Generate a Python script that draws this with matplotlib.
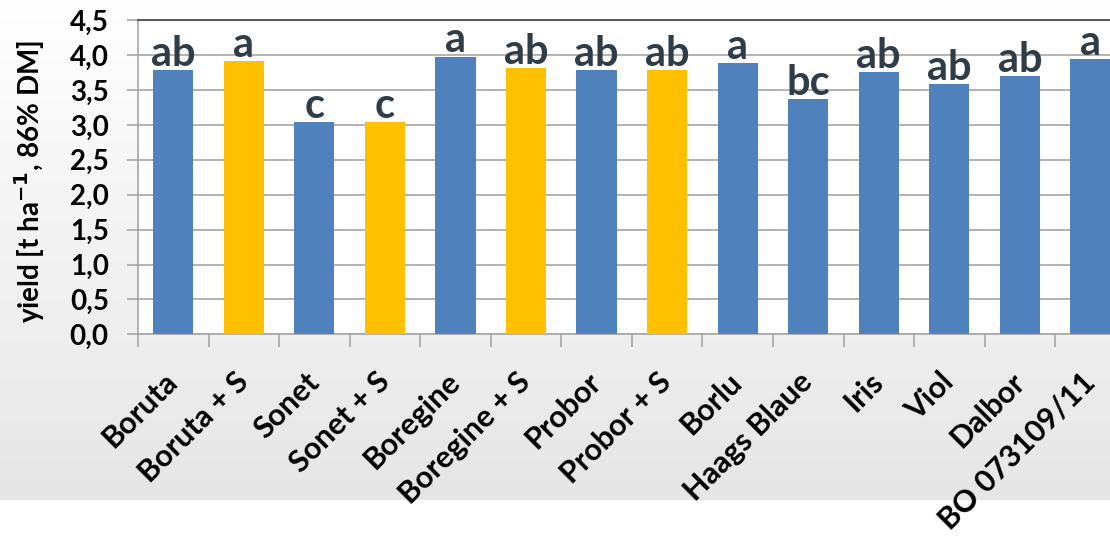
import numpy as np
import matplotlib.pyplot as plt
from matplotlib.colors import LinearSegmentedColormap

varieties = ["Boruta", "Boruta + S", "Sonet", "Sonet + S", "Boregine", "Boregine + S",
             "Probor", "Probor + S", "Borlu", "Haags Blaue", "Iris", "Viol", "Dalbor", "BO 073109/11"]
yields = [3.79, 3.92, 3.04, 3.04, 3.98, 3.81, 3.79, 3.79, 3.89, 3.37, 3.76, 3.59, 3.70, 3.95]
groups = ["ab", "a", "c", "c", "a", "ab", "ab", "ab", "a", "bc", "ab", "ab", "ab", "a"]
sulphur = [False, True, False, True, False, True, False, True, False, False, False, False, False, False]

blue = "#4F81BD"
yellow = "#FFC000"
letter_col = "#2E3D48"

plt.rcParams["font.family"] = ["Lato", "DejaVu Sans"]
plt.rcParams["font.weight"] = "bold"

W, H = 1110, 537
fig = plt.figure(figsize=(W / 100, H / 100), dpi=100)

# grey gradient background behind the chart
bg = fig.add_axes([0, 37 / H, 1, 500 / H], zorder=-2)
grad = np.linspace(0, 1, 256).reshape(-1, 1)
cmap = LinearSegmentedColormap.from_list("bg", ["#FFFFFF", "#E6E6E6"])
bg.imshow(grad, aspect="auto", cmap=cmap, extent=[0, 1, 0, 1], origin="upper")
bg.axis("off")

step = 70.55
ax = fig.add_axes([138 / W, (H - 334.3) / H, 14 * step / W, 314 / H])
x = np.arange(len(varieties))
colors = [yellow if s else blue for s in sulphur]
bars = ax.bar(x, yields, width=0.57, color=colors, zorder=3)

for xi, v, g in zip(x, yields, groups):
    ax.annotate(g, (xi, v), xytext=(0, 3), textcoords="offset points",
                ha="center", va="baseline", fontsize=30, fontweight="bold",
                color=letter_col, zorder=4)

ax.set_xlim(-0.5, len(varieties) - 0.5)
ax.set_ylim(0, 4.5)
ax.set_yticks(np.arange(0, 4.51, 0.5))
ax.set_yticklabels([f"{v:.1f}".replace(".", ",") for v in np.arange(0, 4.51, 0.5)],
                   fontsize=20, fontweight="bold")
ax.yaxis.grid(True, color="#A6A6A6", linewidth=1.2, zorder=0)
ax.tick_params(axis="y", length=8, width=1.2, color="#A6A6A6", pad=13)

ax.set_xticks(x)
ax.set_xticklabels(varieties, rotation=45, ha="right", va="center",
                   rotation_mode="anchor", fontsize=22, fontweight="bold")
ax.tick_params(axis="x", which="major", length=0, pad=31)
ax.set_xticks(np.arange(-0.5, len(varieties), 1), minor=True)
ax.tick_params(axis="x", which="minor", length=9, width=1.2, color="#A6A6A6")

for side in ["left", "bottom"]:
    ax.spines[side].set_color("#A6A6A6")
    ax.spines[side].set_linewidth(1.2)
ax.spines["top"].set_color("#404040")
ax.spines["top"].set_linewidth(1.2)
ax.spines["right"].set_visible(False)

fig.text(30 / W, (H - 182) / H, "yield [t ha$^{\\mathbf{-1}}$, 86% DM]", rotation=90,
         ha="center", va="center", fontsize=20, fontweight="bold")

plt.savefig("out.png", dpi=100)
